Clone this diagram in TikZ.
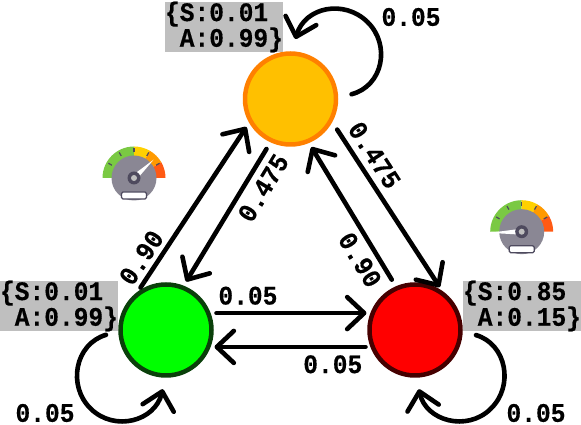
\documentclass[tikz,border=0pt]{standalone}
\usepackage{fontspec}
\setmonofont{Liberation Mono}[FakeStretch=0.92,BoldFeatures={FakeBold=0.4}]
\usetikzlibrary{arrows.meta}
\definecolor{infogray}{HTML}{BFBFBF}
\definecolor{dialgray}{HTML}{8A8794}
\definecolor{dialdark}{HTML}{4E4A5E}
\tikzset{
  state/.style={circle,line width=4.5pt,minimum size=91pt,inner sep=0pt,outer sep=4pt},
  info/.style={fill=infogray,minimum width=118pt,minimum height=50pt,inner sep=0pt,outer sep=0pt,align=left,font=\ttfamily\bfseries\fontsize{26.7}{25.7}\selectfont},
  prob/.style={inner sep=0pt,font=\ttfamily\bfseries\fontsize{26.7}{25.7}\selectfont},
  flow/.style={line width=4.6pt,line cap=round,-{Straight Barb[length=17pt,width=32pt,round]}},
  pics/dial/.style n args={2}{code={
    \foreach \from/\upto/\col in {180/90/7AC943,90/60/FFD000,60/30/FF9A00,30/0/FF5A14}{
      \definecolor{bandcol}{HTML}{\col}
      \fill[bandcol] (0,0) -- (\from:31.5) arc[start angle=\from,end angle=\upto,radius=31.5] -- cycle;
    }
    \foreach \a in {150,120,90,60,30}
      \draw[dialdark,line width=1.2pt] (\a:25.5) -- (\a:29.5);
    \fill[dialgray] (0,0) circle(22.5);
    \fill[white] (#1:#2) -- (#1+90:3) -- (#1-90:3) -- cycle;
    \fill[dialdark] (0,0) circle(6.5);
    \fill[black!25] (0,0) circle(3);
    \draw[dialdark,line width=1.2pt,fill=white,rounded corners=1.5pt] (-12.5,-21) rectangle (12.5,-14);
  }}
}
\begin{document}
\begin{tikzpicture}[x=1pt,y=1pt]
  \useasboundingbox (0,0) rectangle (581,425);
  % states
  \node[state,fill={rgb,255:red,255;green,192;blue,0},draw={rgb,255:red,255;green,128;blue,0}] (yellow) at (290.5,326) {};
  \node[state,fill={rgb,255:red,0;green,255;blue,0},draw={rgb,255:red,10;green,64;blue,10}] (green) at (166,95) {};
  \node[state,fill={rgb,255:red,255;green,0;blue,0},draw={rgb,255:red,70;green,0;blue,0}] (red) at (415,95) {};
  % state values
  \node[info] (yellowinfo) at (224,398) {\{S:0.01\\~A:0.99\}};
  \node[info] (greeninfo) at (59,119) {\{S:0.01\\~A:0.99\}};
  \node[info] (redinfo) at (522,119) {\{S:0.85\\~A:0.15\}};
  % transitions
  \draw[flow,shorten <=7pt] (yellow.-30) -- (red.60) node[prob,pos=0.25,sloped,above=6pt] {0.475};
  \draw[flow,shorten <=6pt,shorten >=3pt] (yellow.-115) -- (green.68) node[prob,pos=0.25,sloped,below=6pt] {0.475};
  \draw[flow,shorten <=6pt,shorten >=3pt] (red.114) -- (yellow.-67) node[prob,pos=0.24,sloped,below=5.5pt] {0.90};
  \draw[flow,shorten >=3pt] (green.121) -- (yellow.211) node[prob,pos=0.13,sloped,above=4.5pt] {0.90};
  \draw[flow,shorten <=4pt,shorten >=2pt] (green.20) -- (red.160) node[prob,pos=0.227,above=6pt] {0.05};
  \draw[flow,shorten <=3pt,shorten >=2pt] (red.-160) -- (green.-20) node[prob,pos=0.229,below=6pt] {0.05};
  % self loops
  \draw[flow,shorten <=12pt,shorten >=11pt] (yellow.2) .. controls (383,339) and (391,380) .. (367.5,403)
    .. controls (344,426) and (305,418) .. (yellow.88);
  \node[prob] (yellowgain) at (411,408) {0.05};
  \draw[flow,shorten <=11pt,shorten >=10pt] (green.182) .. controls (75,81) and (67,39) .. (91,16)
    .. controls (115,-7) and (155,4) .. (green.-91);
  \node[prob] (greengain) at (45,12) {0.05};
  \draw[flow,shorten <=12pt,shorten >=10pt] (red.-2) .. controls (506.5,81) and (514.5,39) .. (490.5,16)
    .. controls (467,-7) and (426,4) .. (red.-88);
  \node[prob] (redgain) at (536,12) {0.05};
  % dials
  \pic at (134,247) {dial={43}{27}};
  \pic at (521.7,193.3) {dial={182}{32}};
\end{tikzpicture}
\end{document}
